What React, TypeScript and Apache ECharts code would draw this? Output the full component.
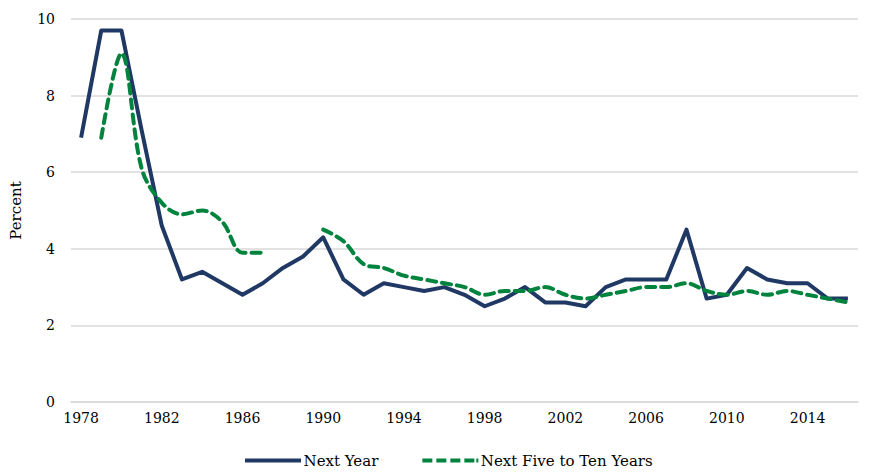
import React, { useEffect, useRef } from "react";
import * as echarts from "echarts";

const years: string[] = [];
for (let y = 1978; y <= 2016; y++) years.push(String(y));

const nextYear: (number | null)[] = [
  6.9, 9.7, 9.7, 7.1, 4.6, 3.2, 3.4, 3.1, 2.8, 3.1,
  3.5, 3.8, 4.3, 3.2, 2.8, 3.1, 3.0, 2.9, 3.0, 2.8,
  2.5, 2.7, 3.0, 2.6, 2.6, 2.5, 3.0, 3.2, 3.2, 3.2,
  4.5, 2.7, 2.8, 3.5, 3.2, 3.1, 3.1, 2.7, 2.7,
];

const nextFiveToTen: (number | null)[] = [
  null, 6.9, 9.1, 6.1, 5.2, 4.9, 5.0, 4.7, 3.9, 3.9,
  null, null, 4.5, 4.2, 3.6, 3.5, 3.3, 3.2, 3.1, 3.0,
  2.8, 2.9, 2.9, 3.0, 2.8, 2.7, 2.8, 2.9, 3.0, 3.0,
  3.1, 2.9, 2.8, 2.9, 2.8, 2.9, 2.8, 2.7, 2.6,
];

const seriesNames = ["Next Year", "Next Five to Ten Years"];
const yTicks = { min: 0, max: 10, interval: 2 };

const NAVY = "#203864";
const GREEN = "#00843d";

export default function App() {
  const ref = useRef<HTMLDivElement>(null);
  useEffect(() => {
    if (!ref.current) return;
    const chart = echarts.init(ref.current, undefined, { renderer: "svg" });
    const font = "DejaVu Serif";
    chart.setOption({
      animation: false,
      backgroundColor: "#ffffff",
      textStyle: { fontFamily: font },
      grid: { left: 68, right: 12, top: 19, bottom: 74 },
      legend: {
        bottom: 3,
        left: 240,
        itemWidth: 57,
        itemHeight: 4,
        itemGap: 44,
        textStyle: { fontFamily: font, fontSize: 15, color: "#000", padding: [0, 0, 0, -3] },
        data: [
          { name: seriesNames[0], icon: "path://M0,0h56v4h-56z" },
          {
            name: seriesNames[1],
            icon: "path://M0,0h10v4h-10z M14,0h10v4h-10z M28,0h10v4h-10z M42,0h10v4h-10z M54,0h2v4h-2z",
          },
        ],
      },
      xAxis: {
        type: "category",
        data: years,
        boundaryGap: true,
        axisLine: { lineStyle: { color: "#d9d9d9", width: 1.5 } },
        axisTick: { show: false },
        axisLabel: {
          interval: 3,
          color: "#000",
          fontFamily: font,
          fontSize: 14,
          margin: 9,
        },
      },
      yAxis: {
        type: "value",
        min: yTicks.min,
        max: yTicks.max,
        interval: yTicks.interval,
        name: "Percent",
        nameLocation: "middle",
        nameGap: 48,
        nameTextStyle: { fontFamily: font, fontSize: 15, color: "#000" },
        axisLine: { show: false },
        axisTick: { show: false },
        splitLine: { lineStyle: { color: "#d9d9d9", width: 1.5 } },
        axisLabel: {
          color: "#000",
          fontFamily: font,
          fontSize: 14,
          margin: 16,
        },
      },
      series: [
        {
          name: seriesNames[0],
          type: "line",
          data: nextYear,
          symbol: "none",
          lineStyle: { color: NAVY, width: 4, join: "round" },
          itemStyle: { color: NAVY },
        },
        {
          name: seriesNames[1],
          type: "line",
          data: nextFiveToTen,
          symbol: "none",
          smooth: 0.35,
          connectNulls: false,
          lineStyle: {
            color: GREEN,
            width: 4,
            type: [9, 6],
            cap: "round",
          },
          itemStyle: { color: GREEN },
        },
      ],
    });
    return () => chart.dispose();
  }, []);
  return (
    <div
      ref={ref}
      style={{ position: "absolute", left: 0, top: 0, width: 870, height: 476 }}
    />
  );
}
